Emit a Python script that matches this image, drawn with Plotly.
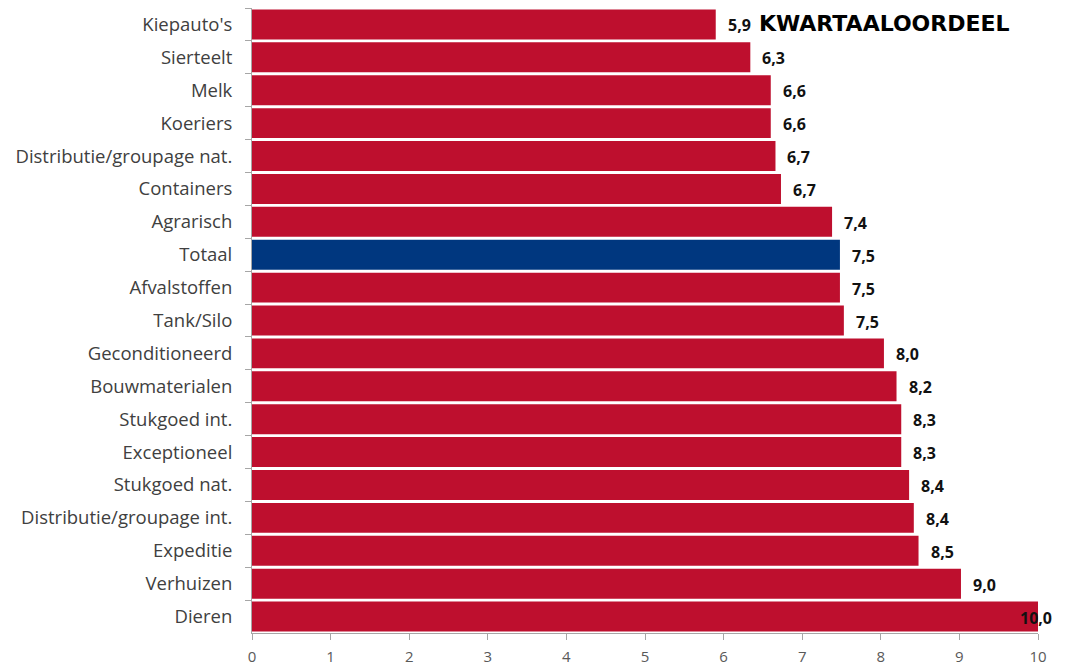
import plotly.graph_objects as go

# Sectors with their quarterly score (top to bottom as in the chart)
sectors = ["Kiepauto's", "Sierteelt", "Melk", "Koeriers", "Distributie/groupage nat.",
           "Containers", "Agrarisch", "Totaal", "Afvalstoffen", "Tank/Silo",
           "Geconditioneerd", "Bouwmaterialen", "Stukgoed int.", "Exceptioneel",
           "Stukgoed nat.", "Distributie/groupage int.", "Expeditie", "Verhuizen", "Dieren"]
scores = [5.9, 6.34, 6.6, 6.6, 6.66, 6.73, 7.38, 7.48, 7.48, 7.53,
          8.04, 8.2, 8.26, 8.26, 8.36, 8.42, 8.48, 9.02, 10.0]
x_ticks = [0, 1, 2, 3, 4, 5, 6, 7, 8, 9, 10]

red = "#BE0F2E"
blue = "#00377F"
colors = [blue if s == "Totaal" else red for s in sectors]

fig = go.Figure()
fig.add_trace(go.Bar(
    x=scores, y=sectors, orientation="h",
    marker=dict(color=colors, line=dict(width=0)),
    hoverinfo="x+y",
))

# value labels next to each bar
for s, v in zip(sectors, scores):
    fig.add_annotation(
        x=v, y=s, text="<b>" + f"{v:.1f}".replace(".", ",") + "</b>",
        xanchor="left", xshift=10 if v < 10 else -20, yshift=-1,
        showarrow=False, font=dict(size=16, color="#111111"),
    )

fig.add_annotation(
    xref="paper", yref="paper", x=0.6425, y=0.975, xanchor="left", yanchor="middle",
    text="<b>KWARTAALOORDEEL</b>", showarrow=False,
    font=dict(size=22, color="#000000", family="DejaVu Sans"),
)

# page has an 8px body margin, so the figure is a bit smaller than the window
fig.update_layout(
    width=1069, height=662,
    margin=dict(l=244, r=39, t=0, b=37),
    plot_bgcolor="white", paper_bgcolor="white",
    font=dict(family="Open Sans", size=15, color="#404040"),
    bargap=0.09,
    showlegend=False,
    xaxis=dict(
        range=[0, 10], tickvals=x_ticks, showgrid=False, zeroline=False,
        showline=True, linecolor="#A6A6A6", linewidth=1, automargin=False,
        ticks="outside", ticklen=6, tickcolor="#A6A6A6",
        ticklabelstandoff=4,
        tickfont=dict(size=15, color="#595959"),
    ),
    yaxis=dict(
        autorange="reversed", showgrid=False, automargin=False,
        showline=True, linecolor="#A6A6A6", linewidth=1,
        ticks="outside", ticklen=6, tickcolor="#A6A6A6", tickson="boundaries",
        ticklabelstandoff=15,
        tickfont=dict(size=18.5, color="#404040"),
    ),
)

fig.write_html("out.html")
